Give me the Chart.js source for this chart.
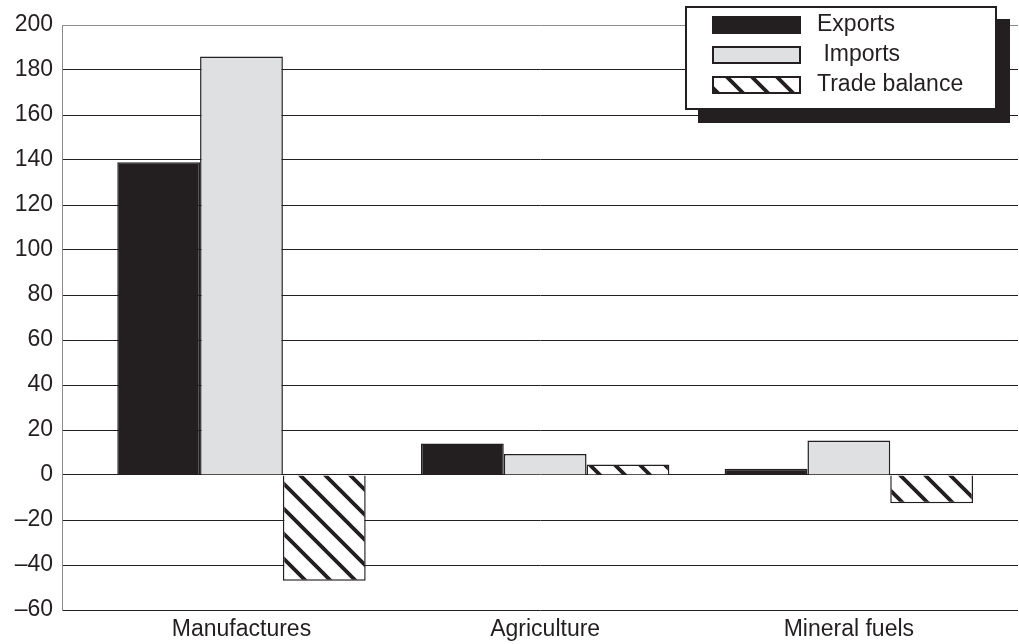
<!DOCTYPE html>
<html>
<head>
<meta charset="utf-8">
<script src="https://cdn.jsdelivr.net/npm/chart.js@4.4.1/dist/chart.umd.min.js"></script>
<style>
  html, body { margin: 0; padding: 0; background: #ffffff; }
  #wrap { width: 1019px; height: 644px; position: relative; }
</style>
</head>
<body>
<div id="wrap"><canvas id="chart"></canvas></div>
<script>
// Trade by product group (billions)
const categories = ['Manufactures', 'Agriculture', 'Mineral fuels'];
const exportsValues = [139, 14, 2.8];
const importsValues = [186, 9.3, 15.3];
const tradeBalanceValues = [-47, 4.7, -12.5];
const seriesNames = ['Exports', ' Imports', 'Trade balance'];
const yTicks = [-60, -40, -20, 0, 20, 40, 60, 80, 100, 120, 140, 160, 180, 200];

const INK = '#231f20';
const FONT = "'Liberation Sans', Arial, Helvetica, sans-serif";

// Diagonal hatch fill for the trade balance bars
function makeHatch() {
  const s = 25;
  const c = document.createElement('canvas');
  c.width = s; c.height = s;
  const g = c.getContext('2d');
  g.fillStyle = '#ffffff';
  g.fillRect(0, 0, s, s);
  g.strokeStyle = INK;
  g.lineWidth = 3.8;
  g.beginPath();
  for (let k = -1; k <= 1; k++) {
    g.moveTo(k * s - 2, -2);
    g.lineTo(k * s + s + 2, s + 2);
  }
  g.stroke();
  return g.createPattern(c, 'repeat');
}
const hatch = makeHatch();

const toPoints = arr => arr.map((v, i) => ({ x: i, y: v }));

// Boxed legend with drop shadow in the upper right
const boxLegend = {
  id: 'boxLegend',
  afterDraw(chart) {
    const ctx = chart.ctx;
    const x = 686, y = 7, w = 310, h = 102;
    ctx.save();
    ctx.fillStyle = INK;
    ctx.fillRect(x + 12, y + 12, w + 2, h + 2);
    ctx.fillStyle = '#ffffff';
    ctx.fillRect(x, y, w, h);
    ctx.lineWidth = 2;
    ctx.strokeStyle = INK;
    ctx.strokeRect(x, y, w, h);
    const rows = [17, 47, 77];
    chart.data.datasets.forEach((ds, i) => {
      const sy = rows[i];
      ctx.fillStyle = ds.backgroundColor;
      ctx.fillRect(713, sy, 87, 16);
      ctx.lineWidth = 2;
      ctx.strokeStyle = INK;
      ctx.strokeRect(713, sy, 87, 16);
      ctx.fillStyle = INK;
      ctx.font = '23px ' + FONT;
      ctx.textBaseline = 'middle';
      ctx.textAlign = 'left';
      ctx.fillText(ds.label, 817, sy + 8);
    });
    ctx.restore();
  }
};

new Chart(document.getElementById('chart'), {
  type: 'bar',
  data: {
    datasets: [
      { label: seriesNames[0], data: toPoints(exportsValues), backgroundColor: INK, borderColor: INK, borderWidth: 1.5 },
      { label: seriesNames[1], data: toPoints(importsValues), backgroundColor: '#dfe0e2', borderColor: INK, borderWidth: 1.5 },
      { label: seriesNames[2], data: toPoints(tradeBalanceValues), backgroundColor: hatch, borderColor: INK, borderWidth: 1.5 }
    ]
  },
  options: {
    responsive: true,
    maintainAspectRatio: false,
    animation: false,
    layout: { padding: { top: 25, right: 1, left: 0, bottom: 0 } },
    datasets: { bar: { categoryPercentage: 0.818, barPercentage: 1 } },
    plugins: {
      legend: { display: false },
      tooltip: { enabled: false }
    },
    scales: {
      x: {
        type: 'linear',
        offset: false,
        min: -0.591,
        max: 2.557,
        grid: { display: false },
        border: { display: false },
        afterBuildTicks: s => { s.ticks = categories.map((_, i) => ({ value: i })); },
        afterFit: s => { s.height = 34; },
        ticks: {
          autoSkip: false,
          maxRotation: 0,
          padding: -2,
          color: INK,
          font: { family: FONT, size: 23 },
          callback: v => categories[v]
        }
      },
      y: {
        min: -60,
        max: 200,
        afterBuildTicks: s => { s.ticks = yTicks.map(v => ({ value: v })); },
        afterFit: s => { s.width = 62; },
        grid: {
          drawTicks: false,
          lineWidth: 1,
          color: c => (c.tick && c.tick.value === 200) ? '#8c8c8c' : INK
        },
        border: { display: true, color: '#8c8c8c', width: 1 },
        ticks: {
          padding: 9,
          color: INK,
          font: { family: FONT, size: 23 },
          callback: v => (v < 0 ? '\u2013' + Math.abs(v) : String(v))
        }
      }
    }
  },
  plugins: [boxLegend]
});
</script>
</body>
</html>
